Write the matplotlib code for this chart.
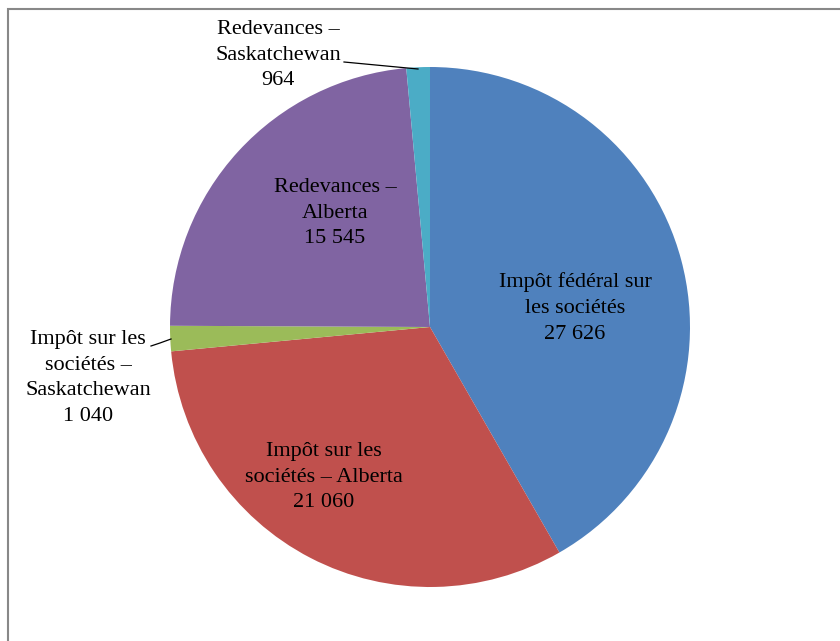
import matplotlib.pyplot as plt
from matplotlib.patches import Rectangle

plt.rcParams['font.family'] = ['Liberation Serif', 'DejaVu Serif']

# Revenue components (millions $)
labels = ['Impôt fédéral sur\nles sociétés',
          'Impôt sur les\nsociétés – Alberta',
          'Impôt sur les\nsociétés –\nSaskatchewan',
          'Redevances –\nAlberta',
          'Redevances –\nSaskatchewan']
values = [27626, 21060, 1040, 15545, 964]
colors = ['#4F81BD', '#C0504D', '#9BBB59', '#8064A2', '#4BACC6']

W, H = 840, 641
CX, CY, R = 430, 327, 260

fig = plt.figure(figsize=(W / 100, H / 100), dpi=100)
ax = fig.add_axes([0, 0, 1, 1])

ax.pie(values, colors=colors, startangle=90, counterclock=False,
       radius=1.0, wedgeprops=dict(linewidth=0))
ax.set_aspect('auto')
ax.set_xlim(-CX / R, (W - CX) / R)
ax.set_ylim(-(H - CY) / R, CY / R)
ax.axis('off')


def px(x, y):
    # pixel position -> data coordinates
    return (x - CX) / R, (CY - y) / R


def fmt(v):
    return f"{v:,}".replace(',', ' ')


# label anchor points (pixel centres)
label_pos = [(575, 308), (324, 477), (88, 378), (335, 213), (278, 55)]
for lab, v, (x, y) in zip(labels, values, label_pos):
    tx, ty = px(x, y)
    ax.text(tx, ty, lab + '\n' + fmt(v), ha='center', va='center',
            fontsize=16, linespacing=1.49, color='black')

# leader lines for the thin slices
for pts in [[(344, 62), (418, 69)],
            [(151, 346), (160, 343), (171, 339)]]:
    xs, ys = zip(*[px(x, y) for x, y in pts])
    ax.plot(xs, ys, color='black', linewidth=0.9)

# chart area frame
fig.patches.append(Rectangle((7.5 / W, -0.1), 1.2, 1.1 - 9.5 / H,
                             transform=fig.transFigure, fill=False,
                             edgecolor='#888888', linewidth=1.5))

fig.savefig('out.png', dpi=100)
